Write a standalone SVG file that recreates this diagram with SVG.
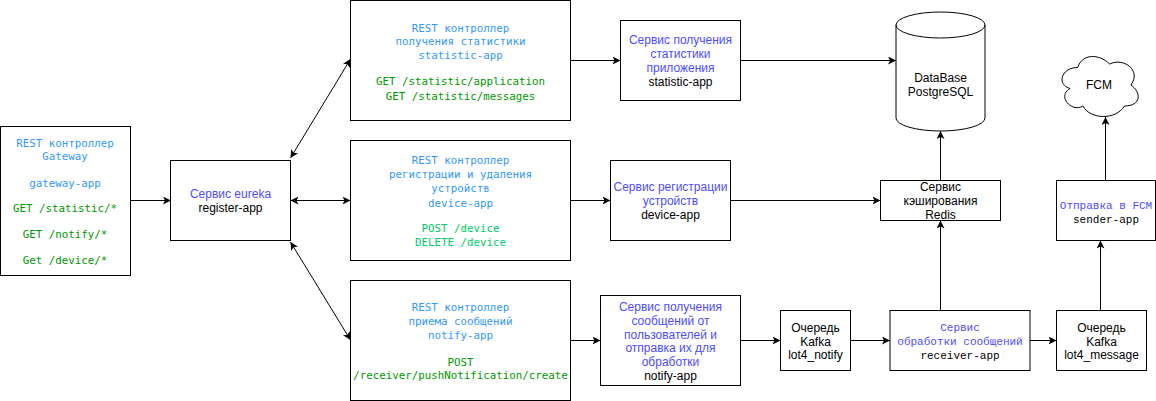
<svg xmlns="http://www.w3.org/2000/svg" width="1156" height="401" viewBox="0 0 1156 401">
<defs>
<style>
.box{fill:#fff;stroke:#000;stroke-width:1}
.ln{fill:none;stroke:#000;stroke-width:1}
.s{font-family:"Liberation Sans",Arial,sans-serif;font-size:12px;text-anchor:middle;fill:#000}
.m{font-family:"DejaVu Sans Mono",monospace;font-size:10.8px;text-anchor:middle}
.c{font-family:"Liberation Mono","Courier New",monospace;font-size:11px;text-anchor:middle;fill:#000}
.b{fill:#3399FF}
.g{fill:#009900}
.g2{fill:#00CC66}
.p{fill:#4D4DFF}
</style>
<marker id="ah" viewBox="0 0 8 8" refX="8" refY="4" markerWidth="8" markerHeight="8" markerUnits="userSpaceOnUse" orient="auto-start-reverse">
<path d="M0,0 L8,4 L0,8 L2,4 Z" fill="#000"/>
</marker>
</defs>
<g id="connectors">
<line class="ln" x1="130" y1="200.5" x2="171" y2="200.5" marker-end="url(#ah)"/>
<line class="ln" x1="290.5" y1="158" x2="350.5" y2="59" marker-start="url(#ah)" marker-end="url(#ah)"/>
<line class="ln" x1="290.5" y1="200.5" x2="350.5" y2="200.5" marker-start="url(#ah)" marker-end="url(#ah)"/>
<line class="ln" x1="290.5" y1="242" x2="350.5" y2="340" marker-start="url(#ah)" marker-end="url(#ah)"/>
<line class="ln" x1="570.5" y1="60.5" x2="620.5" y2="60.5" marker-end="url(#ah)"/>
<line class="ln" x1="740.5" y1="60.5" x2="896" y2="60.5" marker-end="url(#ah)"/>
<line class="ln" x1="570.5" y1="200.5" x2="610.5" y2="200.5" marker-end="url(#ah)"/>
<line class="ln" x1="730.5" y1="200.5" x2="880.5" y2="200.5" marker-end="url(#ah)"/>
<line class="ln" x1="570.5" y1="340.5" x2="600.5" y2="340.5" marker-end="url(#ah)"/>
<line class="ln" x1="740.5" y1="340.5" x2="780.5" y2="340.5" marker-end="url(#ah)"/>
<line class="ln" x1="850.5" y1="340.5" x2="890" y2="340.5" marker-end="url(#ah)"/>
<line class="ln" x1="1030" y1="340.5" x2="1056.5" y2="340.5" marker-end="url(#ah)"/>
<line class="ln" x1="940.5" y1="310.5" x2="940.5" y2="220.5" marker-end="url(#ah)"/>
<line class="ln" x1="940.5" y1="180.5" x2="940.5" y2="131" marker-end="url(#ah)"/>
<line class="ln" x1="1100.5" y1="310.5" x2="1100.5" y2="240.5" marker-end="url(#ah)"/>
<line class="ln" x1="1105.5" y1="180.5" x2="1105.5" y2="117" marker-end="url(#ah)"/>
</g>
<g id="gateway">
<rect class="box" x="0.5" y="126.5" width="130" height="149"/>
<text class="m b" x="65" y="147">REST контроллер</text>
<text class="m b" x="65" y="160">Gateway</text>
<text class="m b" x="65" y="187">gateway-app</text>
<text class="m g" x="65" y="212">GET /statistic/*</text>
<text class="m g" x="65" y="238">GET /notify/*</text>
<text class="m g" x="65" y="264">Get /device/*</text>
</g>
<g id="eureka">
<rect class="box" x="170.5" y="160.5" width="120" height="80"/>
<text class="s p" x="230.5" y="198">Сервис eureka</text>
<text class="s" x="230.5" y="212">register-app</text>
</g>
<g id="rest-statistic">
<rect class="box" x="350.5" y="0.5" width="220" height="120"/>
<text class="m b" x="460.5" y="31.5">REST контроллер</text>
<text class="m b" x="460.5" y="45">получения статистики</text>
<text class="m b" x="460.5" y="58.5">statistic-app</text>
<text class="m g" x="460.5" y="85">GET /statistic/application</text>
<text class="m g" x="460.5" y="99.5">GET /statistic/messages</text>
</g>
<g id="rest-device">
<rect class="box" x="350.5" y="140.5" width="220" height="120"/>
<text class="m b" x="460.5" y="164">REST контроллер</text>
<text class="m b" x="460.5" y="178">регистрации и удаления</text>
<text class="m b" x="460.5" y="192">устройств</text>
<text class="m b" x="460.5" y="206.5">device-app</text>
<text class="m g2" x="460.5" y="232">POST /device</text>
<text class="m g2" x="460.5" y="246">DELETE /device</text>
</g>
<g id="rest-notify">
<rect class="box" x="350.5" y="280.5" width="220" height="120"/>
<text class="m b" x="460.5" y="311">REST контроллер</text>
<text class="m b" x="460.5" y="325">приема сообщений</text>
<text class="m b" x="460.5" y="339">notify-app</text>
<text class="m g" x="460.5" y="365.5">POST</text>
<text class="m g" x="460.5" y="379">/receiver/pushNotification/create</text>
</g>
<g id="svc-statistic">
<rect class="box" x="620.5" y="20.5" width="120" height="80"/>
<text class="s p" x="680.5" y="44">Сервис получения</text>
<text class="s p" x="680.5" y="58">статистики</text>
<text class="s p" x="680.5" y="72">приложения</text>
<text class="s" x="680.5" y="86">statistic-app</text>
</g>
<g id="svc-device">
<rect class="box" x="610.5" y="160.5" width="120" height="80"/>
<text class="s p" x="670.5" y="191">Сервис регистрации</text>
<text class="s p" x="670.5" y="205">устройств</text>
<text class="s" x="670.5" y="219">device-app</text>
</g>
<g id="svc-notify">
<rect class="box" x="600.5" y="295.5" width="140" height="90"/>
<text class="s p" x="670.5" y="311">Сервис получения</text>
<text class="s p" x="670.5" y="324.5">сообщений от</text>
<text class="s p" x="670.5" y="338.5">пользователей и</text>
<text class="s p" x="670.5" y="352">отправка их для</text>
<text class="s p" x="670.5" y="366">обработки</text>
<text class="s" x="670.5" y="379.5">notify-app</text>
</g>
<g id="queue-notify">
<rect class="box" x="780.5" y="310.5" width="70" height="60"/>
<text class="s" x="815.5" y="332">Очередь</text>
<text class="s" x="815.5" y="345.5">Kafka</text>
<text class="s" x="815.5" y="359">lot4_notify</text>
</g>
<g id="receiver">
<rect class="box" x="890" y="310.5" width="140" height="60"/>
<text class="c p" x="960" y="331">Сервис</text>
<text class="c p" x="960" y="345">обработки сообщений</text>
<text class="c" x="960" y="359">receiver-app</text>
</g>
<g id="queue-message">
<rect class="box" x="1056.5" y="310.5" width="90" height="60"/>
<text class="s" x="1101.5" y="332">Очередь</text>
<text class="s" x="1101.5" y="345.5">Kafka</text>
<text class="s" x="1101.5" y="359">lot4_message</text>
</g>
<g id="cache">
<rect class="box" x="880.5" y="180.5" width="120" height="40"/>
<text class="s" x="940.5" y="191">Сервис</text>
<text class="s" x="940.5" y="205">кэширования</text>
<text class="s" x="940.5" y="218.5">Redis</text>
</g>
<g id="database">
<path class="box" d="M896,25 A44.5,13 0 0 1 985,25 L985,118 A44.5,13 0 0 1 896,118 Z"/>
<path class="ln" d="M896,25 A44.5,13 0 0 0 985,25"/>
<text class="s" x="940.5" y="82">DataBase</text>
<text class="s" x="940.5" y="96">PostgreSQL</text>
</g>
<g id="sender">
<rect class="box" x="1056.5" y="180.5" width="99" height="60"/>
<text class="c p" x="1106" y="208.5">Отправка в FCM</text>
<text class="c" x="1106" y="222.5">sender-app</text>
</g>
<g id="fcm">
<path class="box" d="M1077.75,67.5 C1060.75,67.5 1056.5,85 1070.1,88.5 C1056.5,96.2 1071.8,113 1082.85,106 C1090.5,120 1116,120 1124.5,106 C1141.5,106 1141.5,92 1130.9,85 C1141.5,71 1124.5,57 1109.6,64 C1099,53.5 1082,53.5 1077.75,67.5 Z"/>
<text class="s" x="1099" y="89">FCM</text>
</g>
</svg>
